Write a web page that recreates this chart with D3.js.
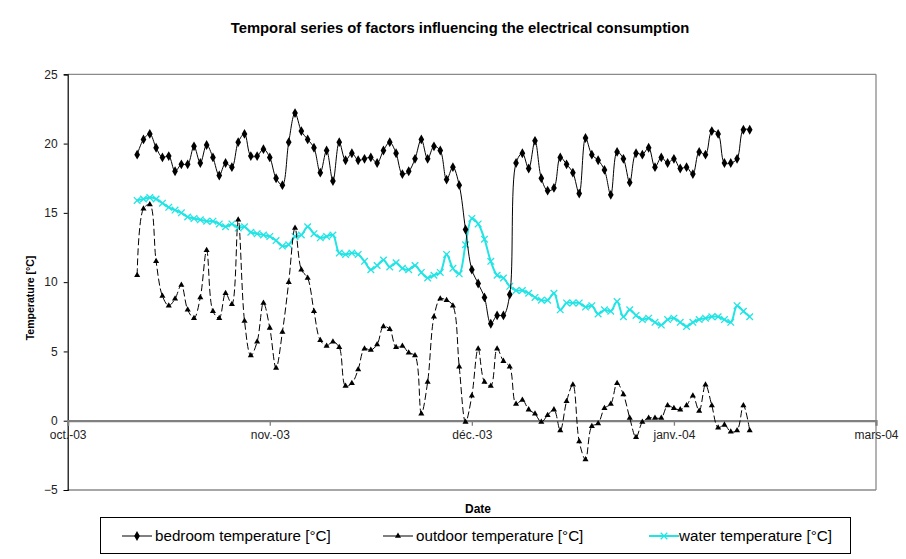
<!DOCTYPE html>
<html>
<head>
<meta charset="utf-8">
<script src="https://cdn.jsdelivr.net/npm/d3@7"></script>
<style>
  html, body { margin: 0; padding: 0; background: #ffffff; }
  svg { display: block; font-family: "Liberation Sans", Arial, sans-serif; }
</style>
</head>
<body>
<svg id="chart" width="906" height="559"></svg>
<script>
// ---------------- DATA ----------------
const titleText = "Temporal series of factors influencing the electrical consumption";
const xAxisTitle = "Date";
const yAxisTitle = "Temperature [°C]";
const seriesNames = ["bedroom temperature [°C]", "outdoor temperature [°C]", "water temperature [°C]"];

const firstDate = "2003-10-12"; // daily measurements starting here
const tickDates = ["2003-10-01", "2003-11-02", "2003-12-04", "2004-01-05", "2004-02-06"];
const tickLabels = ["oct.-03", "nov.-03", "déc.-03", "janv.-04", "mars-04"];
const yTicks = [-5, 0, 5, 10, 15, 20, 25];

const bedroom = [
  19.2, 20.3, 20.7, 19.7, 19.0, 19.1, 18.0, 18.5, 18.5, 19.8, 18.6, 19.9, 19.0, 17.7, 18.6, 18.3,
  20.1, 20.7, 19.1, 19.1, 19.6, 19.0, 17.5, 17.0, 20.1, 22.2, 20.9, 20.3, 19.7, 17.9, 19.5, 17.3, 20.1,
  18.8, 19.3, 18.8, 18.9, 19.0, 18.6, 19.5, 20.1, 19.3, 17.8, 18.0, 18.9, 20.3, 18.9, 19.8, 19.5,
  17.4, 18.3, 17.0, 13.8, 10.9, 9.9, 8.9, 7.0, 7.6, 7.6, 9.1, 18.6, 19.3, 18.2, 20.2, 17.5, 16.6,
  16.8, 19.0, 18.5, 17.9, 16.4, 20.4, 19.2, 18.8, 18.1, 16.3, 19.4, 18.9, 17.2, 19.3, 19.2, 19.7, 18.3,
  19.0, 18.6, 18.9, 18.2, 18.3, 17.8, 19.4, 19.2, 20.9, 20.7, 18.6, 18.6, 18.9, 21.0, 21.0
];
const outdoor = [
  10.5, 15.3, 15.6, 11.5, 9.0, 8.3, 8.8, 9.8, 8.0, 7.4, 8.9, 12.3, 7.9, 7.4, 9.2, 8.4,
  14.5, 7.2, 4.7, 5.7, 8.5, 6.7, 3.8, 6.4, 10.0, 13.9, 10.9, 10.3, 7.9, 5.8, 5.4, 5.7, 5.3,
  2.5, 2.7, 3.7, 5.2, 5.1, 5.5, 6.8, 6.6, 5.3, 5.4, 4.9, 4.7, 0.5, 2.8, 7.5, 8.8,
  8.7, 8.3, 3.9, -0.1, 1.8, 5.2, 2.8, 2.5, 5.2, 4.3, 3.9, 1.2, 1.5, 0.8, 0.5, -0.1, 0.4,
  0.8, -0.7, 1.4, 2.6, -1.5, -2.8, -0.4, -0.2, 0.9, 1.2, 2.7, 1.9, 0.2, -1.2, -0.1, 0.2, 0.2,
  0.2, 1.1, 0.9, 0.8, 1.1, 1.8, 0.7, 2.6, 1.1, -0.5, -0.3, -0.8, -0.7, 1.1, -0.7
];
const water = [
  15.9, 16.0, 16.1, 16.0, 15.7, 15.4, 15.2, 15.0, 14.7, 14.6, 14.5, 14.4, 14.4, 14.2, 14.0, 14.2,
  13.9, 14.0, 13.6, 13.5, 13.4, 13.3, 13.0, 12.6, 12.7, 13.3, 13.4, 14.0, 13.5, 13.2, 13.3, 13.4,
  12.1, 12.0, 12.1, 12.0, 11.5, 10.9, 11.2, 11.6, 11.1, 11.4, 11.0, 10.9, 11.2, 10.7, 10.3, 10.5,
  10.7, 12.0, 11.0, 10.6, 12.7, 14.6, 14.2, 13.1, 11.5, 10.5, 10.3, 9.7, 9.4, 9.4, 9.2, 8.9,
  8.7, 8.7, 9.2, 8.0, 8.5, 8.5, 8.5, 8.2, 8.3, 7.7, 8.0, 7.9, 8.6, 7.5, 8.0, 7.6, 7.3,
  7.4, 7.1, 6.9, 7.3, 7.4, 7.1, 6.8, 7.1, 7.3, 7.4, 7.5, 7.5, 7.3, 7.1, 8.3, 7.9, 7.5
];

// ---------------- SETUP ----------------
const parse = d3.utcParse("%Y-%m-%d");
const startDate = parse(firstDate);
const tickDateObjs = tickDates.map(parse);
const dates = bedroom.map((_, i) => d3.utcDay.offset(startDate, i));

const svg = d3.select("#chart");
svg.append("rect").attr("width", 906).attr("height", 559).attr("fill", "#fff");

const pL = 67.7, pR = 876, pT = 74.3, pB = 490;
const x = d3.scaleUtc().domain([tickDateObjs[0], tickDateObjs[tickDateObjs.length - 1]]).range([pL, pR]);
const y = d3.scaleLinear().domain([-5, 25]).range([pB, pT]);

// title
svg.append("text").attr("x", 460).attr("y", 33).attr("text-anchor", "middle")
  .attr("font-size", 14.8).attr("font-weight", "bold").attr("fill", "#000").text(titleText);

// plot frame (top, right, bottom in grey)
const frame = svg.append("g").attr("stroke", "#8a8a8a").attr("stroke-width", 1.3).attr("fill", "none");
frame.append("line").attr("x1", pL).attr("x2", pR).attr("y1", y(25)).attr("y2", y(25));
frame.append("line").attr("x1", pL).attr("x2", pR).attr("y1", y(-5)).attr("y2", y(-5));
frame.append("line").attr("x1", pR).attr("x2", pR).attr("y1", y(25)).attr("y2", y(-5));

// Y axis
const yAxis = svg.append("g").attr("transform", `translate(${pL},0)`)
  .call(d3.axisLeft(y).tickValues(yTicks).tickSize(4).tickPadding(6).tickFormat(d3.format("d")));
yAxis.select(".domain").attr("stroke", "#000").attr("stroke-width", 1.2);
yAxis.selectAll(".tick line").attr("stroke", "#000");
yAxis.selectAll("text").attr("font-size", 12).attr("fill", "#222")
  .attr("font-family", "Liberation Sans, Arial, sans-serif");

// X axis at y = 0
const xAxis = svg.append("g").attr("transform", `translate(0,${y(0)})`)
  .call(d3.axisBottom(x).tickValues(tickDateObjs).tickSize(5).tickPadding(5)
    .tickFormat((d, i) => tickLabels[i]));
xAxis.select(".domain").attr("stroke", "#808080").attr("stroke-width", 2.2);
xAxis.selectAll(".tick line").attr("stroke", "#808080").attr("stroke-width", 1.3);
xAxis.selectAll("text").attr("font-size", 12).attr("fill", "#222")
  .attr("font-family", "Liberation Sans, Arial, sans-serif");

// axis titles
svg.append("text").attr("transform", `translate(34,298) rotate(-90)`).attr("text-anchor", "middle")
  .attr("font-size", 10.5).attr("font-weight", "bold").attr("fill", "#000").text(yAxisTitle);
svg.append("text").attr("x", 478).attr("y", 513).attr("text-anchor", "middle")
  .attr("font-size", 12).attr("font-weight", "bold").attr("fill", "#000").text(xAxisTitle);

// ---------------- SERIES ----------------
const cyan = "#22e4e4";
const line = d3.line().curve(d3.curveCatmullRom.alpha(0.5))
  .x((d, i) => x(dates[i])).y(d => y(d));

const diamond = d3.symbol().type(d3.symbolDiamond).size(28);
const tri = d3.symbol().type(d3.symbolTriangle).size(16);
const cross = d3.symbol().type(d3.symbolX).size(30);

// water
svg.append("path").datum(water).attr("d", line).attr("fill", "none")
  .attr("stroke", cyan).attr("stroke-width", 2);
svg.append("g").selectAll("path").data(water).join("path")
  .attr("d", cross).attr("transform", (d, i) => `translate(${x(dates[i])},${y(d)})`)
  .attr("fill", "none").attr("stroke", cyan).attr("stroke-width", 1.3);

// outdoor
svg.append("path").datum(outdoor).attr("d", line).attr("fill", "none")
  .attr("stroke", "#000").attr("stroke-width", 1).attr("stroke-dasharray", "7,3");
svg.append("g").selectAll("path").data(outdoor).join("path")
  .attr("d", tri).attr("transform", (d, i) => `translate(${x(dates[i])},${y(d)})`)
  .attr("fill", "#000");

// bedroom
svg.append("path").datum(bedroom).attr("d", line).attr("fill", "none")
  .attr("stroke", "#000").attr("stroke-width", 1);
svg.append("g").selectAll("path").data(bedroom).join("path")
  .attr("d", diamond).attr("transform", (d, i) => `translate(${x(dates[i])},${y(d)})`)
  .attr("fill", "#000");

// ---------------- LEGEND ----------------
const lg = svg.append("g");
lg.append("rect").attr("x", 100.5).attr("y", 517.5).attr("width", 750).attr("height", 36)
  .attr("fill", "#fff").attr("stroke", "#000").attr("stroke-width", 1);
const legendItems = [
  { name: seriesNames[0], x0: 122, tx: 155, sym: diamond, fill: "#000", stroke: "none", color: "#000", w: 1 },
  { name: seriesNames[1], x0: 383, tx: 416, sym: tri, fill: "#000", stroke: "none", color: "#000", w: 1 },
  { name: seriesNames[2], x0: 649, tx: 679, sym: cross, fill: "none", stroke: cyan, color: cyan, w: 2 }
];
const ly = 536;
legendItems.forEach(it => {
  lg.append("line").attr("x1", it.x0).attr("x2", it.x0 + 30).attr("y1", ly).attr("y2", ly)
    .attr("stroke", it.color).attr("stroke-width", it.w);
  lg.append("path").attr("d", it.sym).attr("transform", `translate(${it.x0 + 15},${ly})`)
    .attr("fill", it.fill).attr("stroke", it.stroke).attr("stroke-width", 1.3);
  lg.append("text").attr("x", it.tx).attr("y", ly + 5).attr("font-size", 15.2)
    .attr("fill", "#000").text(it.name);
});
</script>
</body>
</html>
